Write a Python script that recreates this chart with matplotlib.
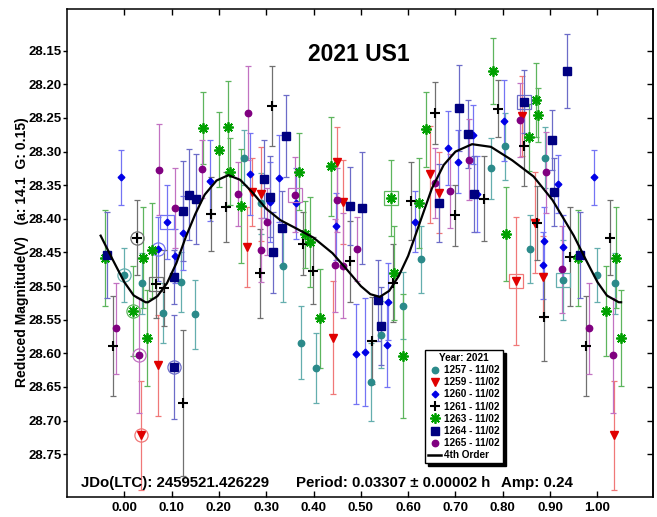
"""Lightcurve plot for 2021 US1 — phased data with 4th order Fourier fit."""
import matplotlib
matplotlib.use("Agg")
import matplotlib.pyplot as plt
from matplotlib.lines import Line2D
import numpy as np

plt.rcParams["font.family"] = ["Liberation Sans", "DejaVu Sans"]
plt.rcParams["font.weight"] = "bold"

# ── Session data: phase, reduced magnitude, error ────────────────────────────
P1257 = [0.000, 0.037, 0.082, 0.120, 0.149, 0.252, 0.290, 0.336, 0.373, 0.405,
         0.522, 0.543, 0.590, 0.627, 0.775, 0.805, 0.858, 0.889, 0.927]
M1257 = [28.483, 28.496, 28.540, 28.494, 28.542, 28.309, 28.377, 28.470, 28.584, 28.622,
         28.643, 28.572, 28.529, 28.460, 28.325, 28.292, 28.445, 28.309, 28.491]
E1257 = [0.040, 0.045, 0.045, 0.045, 0.051, 0.041, 0.045, 0.053, 0.054, 0.052,
         0.058, 0.050, 0.050, 0.050, 0.045, 0.050, 0.051, 0.045, 0.060]

P1259 = [0.035, 0.071, 0.259, 0.269, 0.289, 0.442, 0.450, 0.463, 0.646, 0.665,
         0.828, 0.840, 0.868, 0.884]
M1259 = [28.722, 28.618, 28.442, 28.360, 28.363, 28.577, 28.315, 28.375, 28.334, 28.361,
         28.492, 28.247, 28.406, 28.486]
E1259 = [0.081, 0.075, 0.060, 0.050, 0.070, 0.084, 0.052, 0.062, 0.072, 0.060,
         0.095, 0.060, 0.075, 0.060]

P1260 = [0.072, 0.090, 0.107, 0.125, 0.181, 0.266, 0.308, 0.328, 0.362, 0.448,
         0.490, 0.509, 0.555, 0.558, 0.615, 0.685, 0.705, 0.737, 0.745, 0.802,
         0.886, 0.887, 0.916, 0.927, 0.993]
M1260 = [28.445, 28.404, 28.455, 28.421, 28.343, 28.334, 28.375, 28.340, 28.377, 28.411,
         28.601, 28.598, 28.587, 28.523, 28.404, 28.294, 28.315, 28.275, 28.363, 28.254,
         28.469, 28.433, 28.348, 28.442, 28.338]
E1260 = [0.048, 0.055, 0.040, 0.055, 0.060, 0.061, 0.060, 0.064, 0.053, 0.050,
         0.074, 0.080, 0.063, 0.057, 0.045, 0.055, 0.047, 0.044, 0.057, 0.060,
         0.050, 0.050, 0.043, 0.048, 0.041]

P1261 = [0.0275, 0.068, 0.083, 0.125, 0.183, 0.216, 0.287, 0.312, 0.377, 0.398,
         0.476, 0.524, 0.567, 0.606, 0.657, 0.700, 0.760, 0.789, 0.845, 0.872,
         0.888, 0.942, 0.976]
M1261 = [28.428, 28.497, 28.503, 28.674, 28.393, 28.382, 28.481, 28.232, 28.437, 28.477,
         28.463, 28.581, 28.495, 28.374, 28.242, 28.395, 28.370, 28.236, 28.291, 28.406,
         28.546, 28.456, 28.589]
E1261 = [0.056, 0.050, 0.057, 0.108, 0.055, 0.052, 0.066, 0.059, 0.047, 0.050,
         0.060, 0.065, 0.058, 0.058, 0.046, 0.046, 0.063, 0.043, 0.060, 0.055,
         0.066, 0.073, 0.074]

P1263 = [0.019, 0.039, 0.049, 0.058, 0.166, 0.200, 0.220, 0.223, 0.247, 0.369,
         0.382, 0.393, 0.414, 0.436, 0.563, 0.569, 0.589, 0.623, 0.638, 0.779,
         0.806, 0.856, 0.870, 0.875, 0.960]
M1263 = [28.537, 28.458, 28.577, 28.447, 28.265, 28.297, 28.264, 28.330, 28.381, 28.330,
         28.423, 28.434, 28.548, 28.322, 28.369, 28.480, 28.604, 28.376, 28.267, 28.180,
         28.422, 28.279, 28.224, 28.246, 28.458]
E1263 = [0.067, 0.075, 0.071, 0.070, 0.053, 0.056, 0.069, 0.050, 0.085, 0.057,
         0.050, 0.067, 0.074, 0.074, 0.057, 0.070, 0.092, 0.067, 0.056, 0.049,
         0.070, 0.050, 0.055, 0.040, 0.071]

P1264 = [0.105, 0.106, 0.125, 0.137, 0.152, 0.295, 0.307, 0.314, 0.333, 0.341,
         0.477, 0.503, 0.536, 0.543, 0.665, 0.707, 0.726, 0.739, 0.844, 0.903,
         0.909, 0.935, 0.963]
M1264 = [28.620, 28.487, 28.388, 28.364, 28.370, 28.341, 28.367, 28.450, 28.414, 28.277,
         28.381, 28.384, 28.521, 28.559, 28.376, 28.235, 28.274, 28.363, 28.226, 28.283,
         28.360, 28.180, 28.454]
E1264 = [0.077, 0.040, 0.074, 0.068, 0.067, 0.058, 0.060, 0.060, 0.055, 0.061,
         0.058, 0.083, 0.060, 0.058, 0.058, 0.064, 0.050, 0.057, 0.047, 0.045,
         0.050, 0.055, 0.064]

P1265 = [0.032, 0.073, 0.108, 0.164, 0.241, 0.262, 0.289, 0.301, 0.361, 0.445,
         0.449, 0.462, 0.491, 0.656, 0.689, 0.729, 0.837, 0.892, 0.926, 0.983]
M1265 = [28.603, 28.327, 28.384, 28.326, 28.363, 28.243, 28.446, 28.404, 28.364, 28.469,
         28.372, 28.470, 28.445, 28.347, 28.359, 28.312, 28.253, 28.331, 28.475, 28.563]
E1265 = [0.085, 0.068, 0.060, 0.043, 0.048, 0.070, 0.048, 0.050, 0.056, 0.069,
         0.048, 0.078, 0.048, 0.052, 0.055, 0.060, 0.055, 0.060, 0.065, 0.068]

# 4th order fit, sampled over one period
FIT_P = [0.000, 0.020, 0.045, 0.050, 0.070, 0.090, 0.110, 0.130, 0.150, 0.170,
         0.195, 0.220, 0.245, 0.270, 0.300, 0.330, 0.360, 0.400, 0.440, 0.470,
         0.500, 0.520, 0.540, 0.560, 0.580, 0.600, 0.625, 0.650, 0.675, 0.700,
         0.735, 0.775, 0.820, 0.865, 0.905, 0.950, 0.975]
FIT_M = [28.494, 28.514, 28.524, 28.524, 28.515, 28.496, 28.466, 28.427, 28.393, 28.364,
         28.343, 28.335, 28.342, 28.360, 28.385, 28.402, 28.413, 28.428, 28.451, 28.475,
         28.500, 28.512, 28.516, 28.507, 28.485, 28.455, 28.405, 28.355, 28.320, 28.300,
         28.289, 28.293, 28.313, 28.337, 28.372, 28.425, 28.460]

JD0 = "2459521.426229"
PERIOD = "0.03307 ± 0.00002 h"
AMP = "0.24"

# (label, phase, mag, err, marker style, errorbar colour, first idx, last idx)
SESSIONS = [
    ("1257 - 11/02", P1257, M1257, E1257,
     dict(marker="o", color="#2B8A8A", ms=4.6), "#64AEAE", 0, 18),
    ("1259 - 11/02", P1259, M1259, E1259,
     dict(marker="v", color="#E00000", ms=5.5), "#F07878", 0, 10),
    ("1260 - 11/02", P1260, M1260, E1260,
     dict(marker="D", color="#0000E6", ms=3.4), "#7474F4", 0, 1),
    ("1261 - 11/02", P1261, M1261, E1261,
     dict(marker="+", color="black", ms=7.5, mew=1.5), "#707070", 0, 1),
    ("1263 - 11/02", P1263, M1263, E1263,
     dict(marker=(8, 2, 0), color="#00A000", ms=7.5, mew=1.3), "#5DB55D", 0, 14),
    ("1264 - 11/02", P1264, M1264, E1264,
     dict(marker="s", color="#000080", ms=5.6), "#6C6CC8", 0, 18),
    ("1265 - 11/02", P1265, M1265, E1265,
     dict(marker="o", color="#800080", ms=4.6), "#C272C2", 0, 8),
]

EDGE = 0.05  # phase overlap shown on both ends


def _wrap(phase, *cols):
    """Repeat points near phase 0/1 so the plot covers -0.05 .. 1.05."""
    p = np.asarray(phase, dtype=float)
    cols = [np.asarray(c, dtype=float) for c in cols]
    lo = p >= 1 - EDGE
    hi = p <= EDGE
    out_p = np.concatenate([p[lo] - 1, p, p[hi] + 1])
    out_c = [np.concatenate([c[lo], c, c[hi]]) for c in cols]
    return (out_p, *out_c)


fig = plt.figure(figsize=(6.57, 5.17), dpi=100, facecolor="white")
ax = fig.add_axes([0.1024, 0.0381, 0.8919, 0.9445])

handles = []
for label, ph, mg, er, mk, ecol, first, last in SESSIONS:
    wp, wm, we = _wrap(ph, mg, er)
    ax.errorbar(wp, wm, yerr=we, fmt="none", ecolor=ecol, elinewidth=0.9,
                capsize=2, capthick=0.9, zorder=2)
    ax.plot(wp, wm, linestyle="none", mec=mk["color"], zorder=3, **mk)
    # first and last point of each session get an open ring / box
    ax.plot(ph[first], mg[first], marker="o", ms=9.5, mfc="none",
            mec=ecol, mew=0.9, linestyle="none", zorder=3)
    ax.plot(ph[last], mg[last], marker="s", ms=9.5, mfc="none",
            mec=ecol, mew=0.9, linestyle="none", zorder=3)
    handles.append(Line2D([], [], linestyle="none", label=label, **mk))

fp, fm = _wrap(FIT_P, FIT_M)
ax.plot(fp, fm, color="black", linewidth=1.6, zorder=4)
handles.append(Line2D([], [], color="black", linewidth=1.8, label="4th Order"))

# ── Axes styling ──────────────────────────────────────────────────────────────
yt = np.round(np.arange(28.15, 28.751, 0.05), 2)
xt = np.round(np.arange(0.0, 1.001, 0.1), 1)
ax.set_xlim(-0.1205, 1.118)
ax.set_ylim(28.814, 28.088)
ax.set_yticks(yt)
ax.set_yticklabels([f"{v:.2f}" for v in yt])
ax.set_xticks(xt)
ax.set_xticklabels([f"{v:.2f}" for v in xt])
ax.tick_params(axis="y", direction="out", length=3, width=1, pad=1,
               labelsize=9.5, right=False)
ax.tick_params(axis="x", direction="in", length=4.5, width=1, pad=3.5,
               labelsize=9.5, top=True)
for s in ax.spines.values():
    s.set_linewidth(1.1)

sec = ax.secondary_yaxis("right")
sec.set_yticks(yt)
sec.tick_params(direction="in", length=4.5, width=1, labelright=False)
sec.spines["right"].set_linewidth(1.1)

ax.text(0.498, 0.906, "2021 US1", transform=ax.transAxes, ha="center",
        va="center", fontsize=16.5, fontweight="bold")
ax.text(0.0234, 0.030, f"JDo(LTC): {JD0}", transform=ax.transAxes,
        ha="left", va="center", fontsize=10.8, fontweight="bold")
ax.text(0.3905, 0.030, f"Period: {PERIOD}", transform=ax.transAxes,
        ha="left", va="center", fontsize=10.8, fontweight="bold")
ax.text(0.7405, 0.030, f"Amp: {AMP}", transform=ax.transAxes,
        ha="left", va="center", fontsize=10.8, fontweight="bold")

fig.text(22 / 657, 1 - 252 / 517, "Reduced Magnitude(V)   (a: 14.1  G: 0.15)",
         rotation=90, ha="center", va="center", fontsize=10, fontweight="bold")

leg = ax.legend(handles=handles, title="Year: 2021", loc="upper left",
                bbox_to_anchor=(0.611, 0.302), borderaxespad=0,
                prop=dict(size=7.2, weight="bold"), title_fontsize=7.2,
                frameon=True, fancybox=False, framealpha=1, edgecolor="black",
                borderpad=0.3, labelspacing=0.22, handletextpad=0.3,
                handlelength=1.3, shadow={"color": "black", "alpha": 1})
leg.get_title().set_fontweight("bold")
leg.get_frame().set_linewidth(1.0)
leg.set_zorder(10)

fig.savefig("out.png", dpi=100, facecolor="white")
